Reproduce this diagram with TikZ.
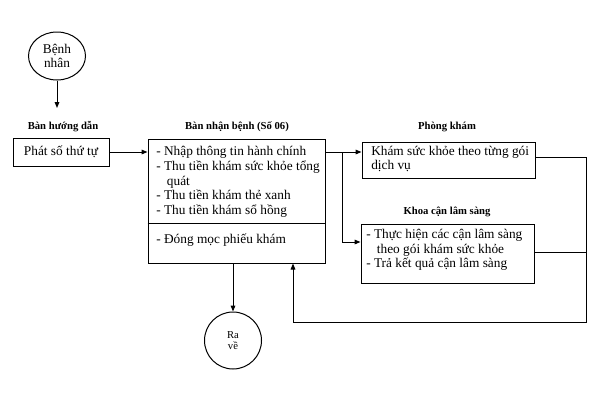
\documentclass[tikz,border=0pt]{standalone}
\usepackage{fontspec}
\setmainfont{Liberation Serif}
\usetikzlibrary{arrows.meta,shapes.geometric}
\begin{document}
\begin{tikzpicture}[x=0.75pt,y=-0.75pt,
  every node/.style={font=\fontsize{10}{11}\selectfont},
  ttl/.style={font=\fontsize{8}{9}\selectfont\bfseries, inner sep=0},
  box/.style={draw, line width=0.75pt, inner sep=0, rectangle},
  txt/.style={align=left, inner sep=0, anchor=west},
  ln/.style={line width=0.75pt},
  arr/.style={line width=0.75pt, -{Triangle[length=4.5pt,width=3.5pt]}}
]
\useasboundingbox (0,0) rectangle (600,400);
% patient
\node[ellipse,draw,ln,minimum width=42.75pt,minimum height=36pt,inner sep=0,align=center] (bn) at (57,56) {Bệnh\\nhân};
\coordinate (bnend) at (57,108);
\draw[arr] (bn) -- (bnend);
% guide desk
\node[ttl] (t1) at (63,127) {Bàn hướng dẫn};
\node[box,minimum width=72pt,minimum height=21pt] (phat) at (61,152) {Phát số thứ tự};
% reception
\node[ttl] (t2) at (237,127) {Bàn nhận bệnh (Số 06)};
\node[box,minimum width=132.75pt,minimum height=93pt] (main) at (236.5,201) {};
\node[txt] (m1) at (156,182) {- Nhập thông tin hành chính\\- Thu tiền khám sức khỏe tổng\\\hspace*{8pt}quát\\- Thu tiền khám thẻ xanh\\- Thu tiền khám sổ hồng};
\coordinate (dl) at (148,223);
\draw[ln] (main.west |- dl) -- (main.east |- dl);
\node[txt] (m2) at (156,240) {- Đóng mọc phiếu khám};
% clinic
\node[ttl] (t3) at (447,127) {Phòng khám};
\node[box,minimum width=129.75pt,minimum height=27pt] (phong) at (448.5,160) {};
\node[txt] (p1) at (371,159) {Khám sức khỏe theo từng gói\\dịch vụ};
% paraclinical
\node[ttl] (t4) at (447,212) {Khoa cận lâm sàng};
\node[box,minimum width=129.75pt,minimum height=44.25pt] (khoa) at (447.5,253.5) {};
\node[txt] (k1) at (366,250) {- Thực hiện các cận lâm sàng\\\hspace*{8pt}theo gói khám sức khỏe\\- Trả kết quả cận lâm sàng};
% exit
\node[circle,draw,ln,minimum size=42.75pt,inner sep=0,align=center,font=\fontsize{8}{8.5}\selectfont] (rv) at (233,340.5) {Ra\\về};
% connectors
\draw[arr] (phat.east) -- (main.west |- phat.east);
\coordinate (br) at (342,152);
\draw[arr] (main.east |- br) -- (phong.west |- br);
\coordinate (br2) at (342,242);
\draw[arr] (br) -- (br2) -- (khoa.west |- br2);
\coordinate (r1) at (586,157);
\coordinate (r2) at (586,252);
\coordinate (r3) at (586,322);
\coordinate (r4) at (293,322);
\draw[ln] (phong.east |- r1) -- (r1);
\draw[ln] (khoa.east |- r2) -- (r2);
\draw[arr] (r1) -- (r3) -- (r4) -- (main.south -| r4);
\draw[arr] (main.south -| rv) -- (rv);
\end{tikzpicture}
\end{document}
